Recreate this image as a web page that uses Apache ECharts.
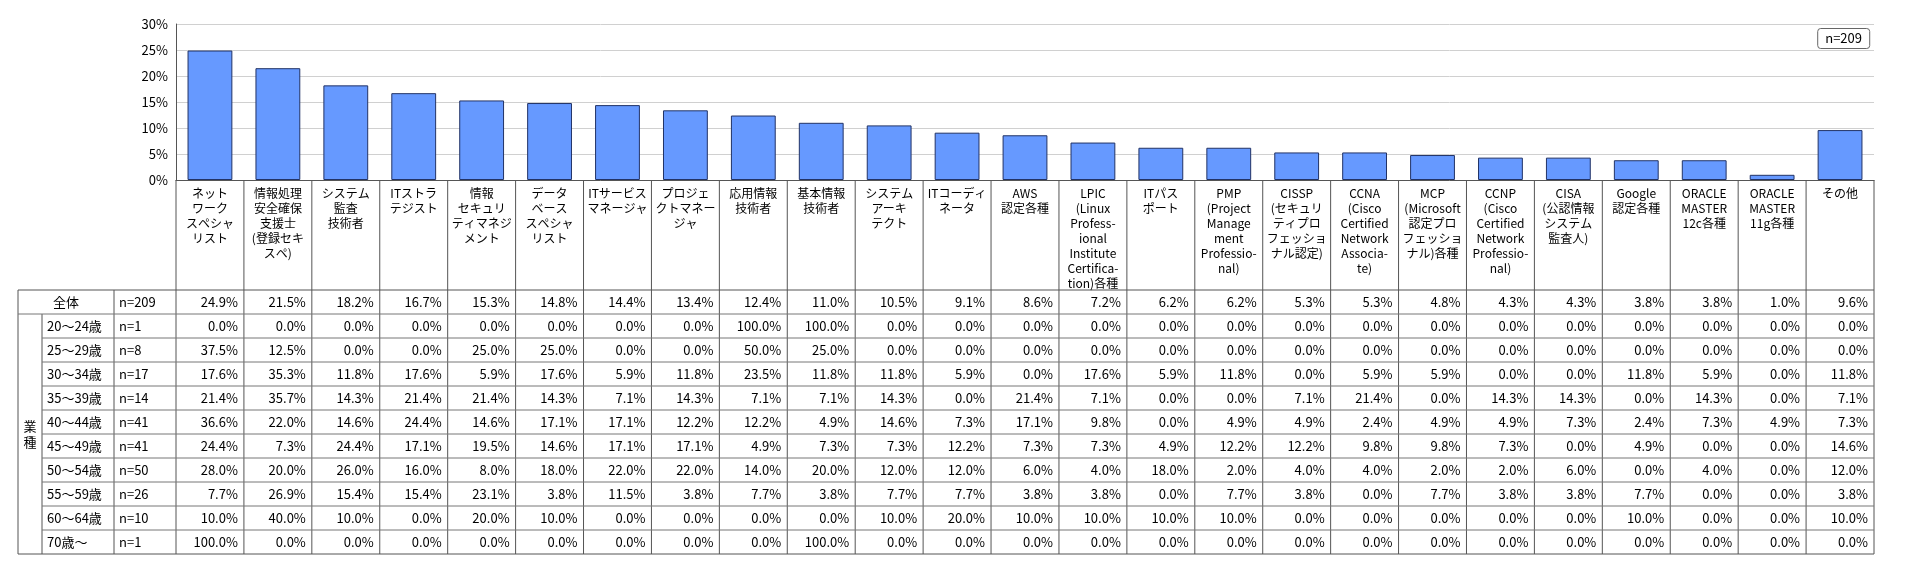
<!DOCTYPE html>
<html>
<head>
<meta charset="utf-8">
<script src="https://cdn.jsdelivr.net/npm/echarts@6/dist/echarts.min.js"></script>
<style>html,body{margin:0;padding:0;background:#fff}#chart{width:1920px;height:562px}</style>
</head>
<body>
<div id="chart"></div>
<script>
var categories = ['ネット\nワーク\nスペシャ\nリスト','情報処理\n安全確保\n支援士\n(登録セキ\nスペ)','システム\n監査\n技術者','ITストラ\nテジスト',
  '情報\nセキュリ\nティマネジ\nメント','データ\nベース\nスペシャ\nリスト','ITサービス\nマネージャ','プロジェ\nクトマネー\nジャ','応用情報\n技術者',
  '基本情報\n技術者','システム\nアーキ\nテクト','ITコーディ\nネータ','AWS\n認定各種','LPIC\n(Linux\nProfess-\nional\nInstitute\nCertifica-\ntion)各種',
  'ITパス\nポート','PMP\n(Project\nManage\nment\nProfessio-\nnal)','CISSP\n(セキュリ\nティプロ\nフェッショ\nナル認定)','CCNA\n(Cisco\nCertified\nNetwork\nAssocia-\nte)',
  'MCP\n(Microsoft\n認定プロ\nフェッショ\nナル)各種','CCNP\n(Cisco\nCertified\nNetwork\nProfessio-\nnal)','CISA\n(公認情報\nシステム\n監査人)',
  'Google\n認定各種','ORACLE\nMASTER\n12c各種','ORACLE\nMASTER\n11g各種','その他'];
var overall = [24.9,21.5,18.2,16.7,15.3,14.8,14.4,13.4,12.4,11.0,10.5,9.1,8.6,7.2,6.2,6.2,5.3,5.3,4.8,4.3,4.3,3.8,3.8,1.0,9.6];
var overallN = 'n=209';
var groupLabel = ['業', '種'];
var ageLabels = ['20～24歳','25～29歳','30～34歳','35～39歳','40～44歳','45～49歳','50～54歳','55～59歳','60～64歳','70歳～'];
var ageN = ['n=1','n=8','n=17','n=14','n=41','n=41','n=50','n=26','n=10','n=1'];
var ageRows = [
  [0,0,0,0,0,0,0,0,100,100,0,0,0,0,0,0,0,0,0,0,0,0,0,0,0],
  [37.5,12.5,0,0,25,25,0,0,50,25,0,0,0,0,0,0,0,0,0,0,0,0,0,0,0],
  [17.6,35.3,11.8,17.6,5.9,17.6,5.9,11.8,23.5,11.8,11.8,5.9,0,17.6,5.9,11.8,0,5.9,5.9,0,0,11.8,5.9,0,11.8],
  [21.4,35.7,14.3,21.4,21.4,14.3,7.1,14.3,7.1,7.1,14.3,0,21.4,7.1,0,0,7.1,21.4,0,14.3,14.3,0,14.3,0,7.1],
  [36.6,22.0,14.6,24.4,14.6,17.1,17.1,12.2,12.2,4.9,14.6,7.3,17.1,9.8,0,4.9,4.9,2.4,4.9,4.9,7.3,2.4,7.3,4.9,7.3],
  [24.4,7.3,24.4,17.1,19.5,14.6,17.1,17.1,4.9,7.3,7.3,12.2,7.3,7.3,4.9,12.2,12.2,9.8,9.8,7.3,0,4.9,0,0,14.6],
  [28,20,26,16,8,18,22,22,14,20,12,12,6,4,18,2,4,4,2,2,6,0,4,0,12],
  [7.7,26.9,15.4,15.4,23.1,3.8,11.5,3.8,7.7,3.8,7.7,7.7,3.8,3.8,0,7.7,3.8,0,7.7,3.8,3.8,7.7,0,0,3.8],
  [10,40,10,0,20,10,0,0,0,0,10,20,10,10,10,10,0,0,0,0,0,10,0,0,10],
  [100,0,0,0,0,0,0,0,0,100,0,0,0,0,0,0,0,0,0,0,0,0,0,0,0]
];

var FONT = '"Noto Sans CJK JP", sans-serif';
var chart = echarts.init(document.getElementById('chart'));
chart.setOption({
  animation: false,
  textStyle: {fontFamily: FONT},
  title: {
    text: overallN, right: 50, top: 28,
    borderColor: '#666', borderWidth: 1, borderRadius: 3, padding: [4, 8],
    textStyle: {fontSize: 13, fontWeight: 'normal', color: '#000', fontFamily: FONT}
  },
  grid: {left: 176, right: 46, top: 24, bottom: 382},
  xAxis: {
    type: 'category', data: categories,
    axisLine: {lineStyle: {color: '#555'}},
    axisTick: {show: false},
    axisLabel: {interval: 0, color: '#000', fontSize: 12, lineHeight: 15, margin: 6, verticalAlign: 'top'}
  },
  yAxis: {
    type: 'value', min: 0, max: 30, interval: 5,
    axisLine: {show: true, lineStyle: {color: '#555'}},
    axisLabel: {formatter: '{value}%', color: '#000', fontSize: 13},
    splitLine: {lineStyle: {color: '#d0d0d0'}}
  },
  series: [{
    type: 'bar', data: overall, barCategoryGap: '34%',
    itemStyle: {color: '#6699ff', borderColor: '#223366', borderWidth: 1}
  }]
});

function buildTable() {
  var c0 = chart.convertToPixel({xAxisIndex: 0}, 0);
  var c1 = chart.convertToPixel({xAxisIndex: 0}, 1);
  var w = c1 - c0;
  var left0 = c0 - w / 2;
  var right0 = left0 + w * categories.length;
  var axisY = chart.convertToPixel({yAxisIndex: 0}, 0);
  var tTop = 290, rowH = 24, xL = 18, xG = 42, xA = 114;
  var nRows = 1 + ageRows.length;
  var tBot = tTop + rowH * nRows;
  var g = [];
  var line = function (x1, y1, x2, y2, c) {
    g.push({type: 'line', shape: {x1: x1, y1: y1, x2: x2, y2: y2}, style: {stroke: c || '#555', lineWidth: 1}, silent: true});
  };
  var text = function (x, y, s, align) {
    g.push({type: 'text', x: x, y: y, style: {text: s, fill: '#000', font: '13px ' + FONT, textAlign: align, textVerticalAlign: 'middle'}, silent: true});
  };
  for (var i = 0; i <= categories.length; i++) line(left0 + w * i, axisY, left0 + w * i, tBot);
  line(xL, tTop, xL, tBot); line(xG, tTop + rowH, xG, tBot); line(xA, tTop, xA, tBot);
  line(xL, tTop, right0, tTop);
  for (var r = 1; r < nRows; r++) line(r === 1 ? xL : xG, tTop + rowH * r, right0, tTop + rowH * r, '#777');
  line(xL, tBot, right0, tBot);
  var cy = tTop + rowH / 2;
  text((xL + xA) / 2, cy, '全体', 'center');
  text(xA + 5, cy, overallN, 'left');
  overall.forEach(function (v, j) { text(left0 + w * (j + 1) - 6, cy, v.toFixed(1) + '%', 'right'); });
  var gy = tTop + rowH + rowH * ageRows.length / 2;
  text((xL + xG) / 2, gy - 8, groupLabel[0], 'center');
  text((xL + xG) / 2, gy + 8, groupLabel[1], 'center');
  ageRows.forEach(function (row, k) {
    var y = tTop + rowH * (k + 1.5);
    text(xG + 5, y, ageLabels[k], 'left');
    text(xA + 5, y, ageN[k], 'left');
    row.forEach(function (v, j) { text(left0 + w * (j + 1) - 6, y, v.toFixed(1) + '%', 'right'); });
  });
  chart.setOption({graphic: g});
}
buildTable();
</script>
</body>
</html>
